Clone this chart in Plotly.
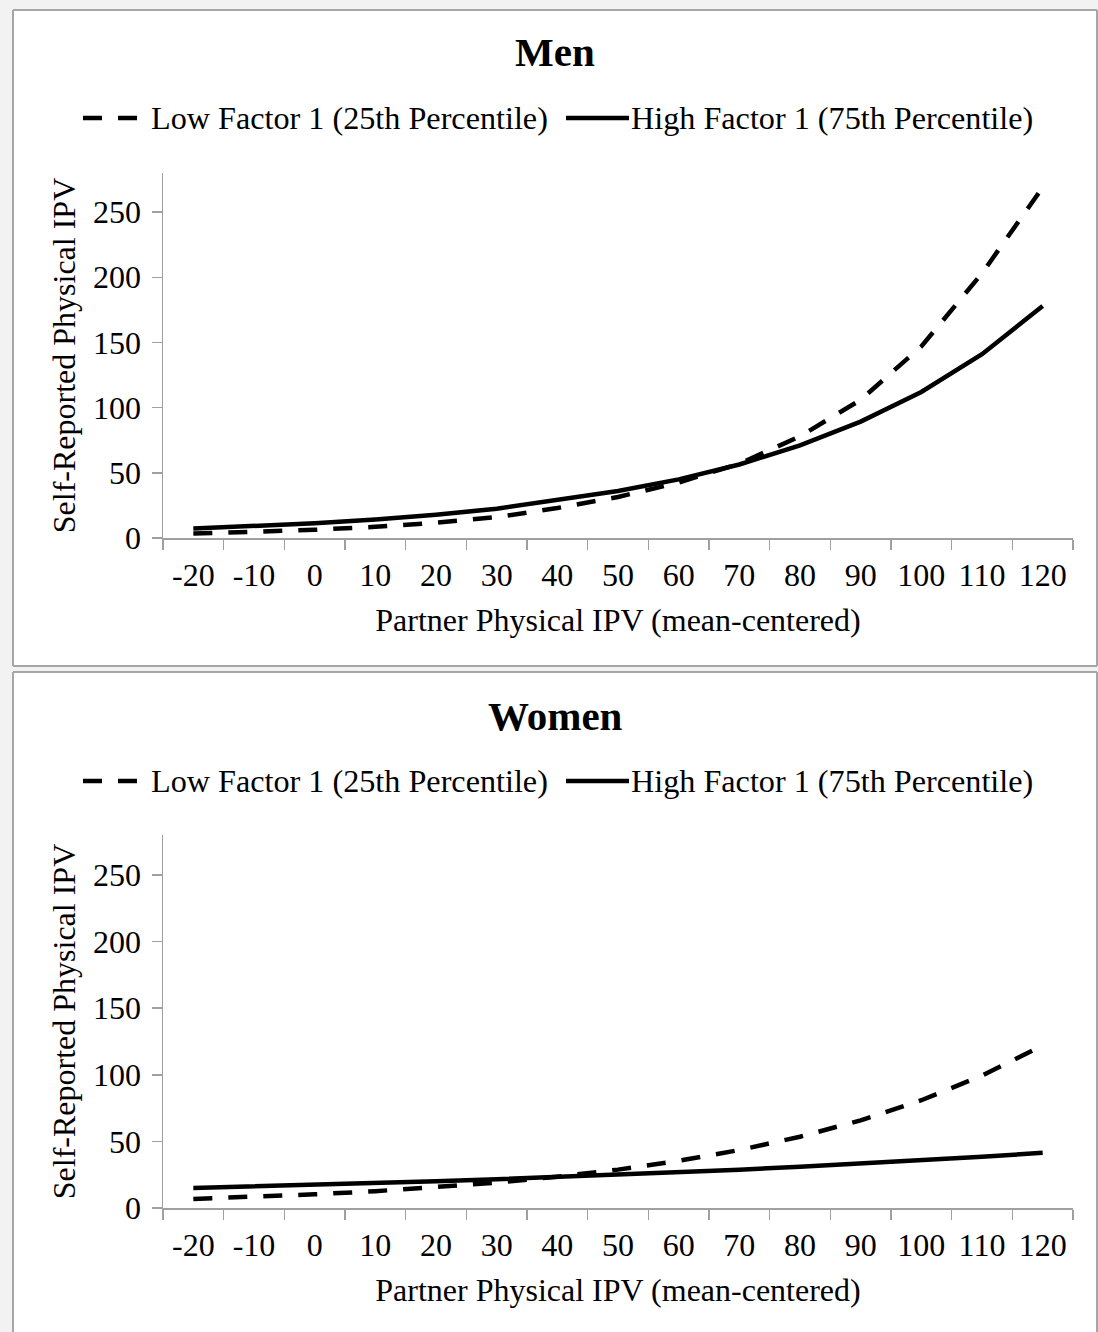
import plotly.graph_objects as go

# ---------------- data ----------------
x_labels = ["-20", "-10", "0", "10", "20", "30", "40", "50", "60", "70", "80", "90", "100", "110", "120"]
y_ticks = [0, 50, 100, 150, 200, 250]

men_low = [3.4, 4.6, 6.3, 8.6, 11.7, 16.0, 23.0, 31.5, 42.5, 57.0, 78.0, 106.0, 147.0, 203.0, 269.0]
men_high = [7.2, 9.0, 11.3, 14.2, 17.9, 22.5, 29.0, 36.0, 45.0, 56.4, 71.0, 89.3, 112.0, 141.0, 178.0]
women_low = [6.8, 8.4, 10.3, 12.6, 15.5, 19.1, 23.5, 28.8, 35.4, 43.5, 53.5, 65.8, 80.9, 99.4, 122.0]
women_high = [15.0, 16.1, 17.3, 18.7, 20.1, 21.6, 23.2, 24.9, 26.8, 28.8, 31.0, 33.3, 35.8, 38.5, 41.4]

low_name = "Low Factor 1 (25th Percentile)"
high_name = "High Factor 1 (75th Percentile)"
x_title = "Partner Physical IPV (mean-centered)"
y_title = "Self-Reported Physical IPV"
panel_titles = ["Men", "Women"]

# ---------------- layout helpers ----------------
W, H = 1098, 1332          # reference frame used for placing things
FIG_H = 1350               # rendered page height
def px(x):
    return x / W
def py(y):
    return 1 - y / H

FONT = "Liberation Serif, Times New Roman, serif"
AX = "#a0a0a0"
BORDER = "#a6a6a6"
DASH = "19px,16px"
LW = 4.5

fig = go.Figure()

panels = [
    dict(low=men_low, high=men_high, xa="x", ya="y",
         box=(13, 10, 1097, 666), closed=True, title_y=52, leg_y=118),
    dict(low=women_low, high=women_high, xa="x2", ya="y2",
         box=(13, 672, 1097, 1332), closed=False, title_y=716, leg_y=781),
]

shapes = []
annotations = []
def border(x0, y0, x1, y1):
    shapes.append(dict(type="line", xref="paper", yref="paper", layer="below",
                       x0=px(x0), x1=px(x1), y0=py(y0), y1=py(y1),
                       line=dict(color=BORDER, width=2)))

for i, p in enumerate(panels):
    fig.add_trace(go.Scatter(x=x_labels, y=p["low"], mode="lines", name=low_name,
                             line=dict(color="black", width=LW, dash=DASH),
                             xaxis=p["xa"], yaxis=p["ya"], showlegend=False))
    fig.add_trace(go.Scatter(x=x_labels, y=p["high"], mode="lines", name=high_name,
                             line=dict(color="black", width=LW),
                             xaxis=p["xa"], yaxis=p["ya"], showlegend=False))
    x0, y0, x1, y1 = p["box"]
    shapes.append(dict(type="rect", xref="paper", yref="paper", layer="below",
                       x0=px(x0), x1=px(x1), y0=py(y1), y1=py(y0),
                       fillcolor="white", line=dict(width=0)))
    border(x0, y0, x1, y0)
    border(x0, y0, x0, y1)
    border(x1, y0, x1, y1)
    if p["closed"]:
        border(x0, y1, x1, y1)
    ly = py(p["leg_y"])
    shapes.append(dict(type="line", xref="paper", yref="paper", x0=px(83), x1=px(137),
                       y0=ly, y1=ly, line=dict(color="black", width=LW, dash=DASH)))
    shapes.append(dict(type="line", xref="paper", yref="paper", x0=px(566), x1=px(629),
                       y0=ly, y1=ly, line=dict(color="black", width=LW)))
    annotations.append(dict(text=low_name, xref="paper", yref="paper", x=px(149), y=ly,
                            xanchor="left", yanchor="middle", showarrow=False,
                            font=dict(family=FONT, size=32.2, color="black")))
    annotations.append(dict(text=high_name, xref="paper", yref="paper", x=px(629), y=ly,
                            xanchor="left", yanchor="middle", showarrow=False,
                            font=dict(family=FONT, size=32.2, color="black")))
    annotations.append(dict(text="<b>%s</b>" % panel_titles[i], xref="paper", yref="paper",
                            x=px(555), y=py(p["title_y"]), xanchor="center", yanchor="middle",
                            showarrow=False, font=dict(family=FONT, size=41, color="black")))

axis_common_x = dict(type="category", tickson="boundaries", ticks="outside", ticklen=10,
                     tickcolor=AX, tickwidth=1.5, showline=True, linecolor=AX, linewidth=1.5,
                     showgrid=False, zeroline=False, range=[-0.5, 14.5], fixedrange=True,
                     ticklabelstandoff=8,
                     tickfont=dict(family=FONT, size=32, color="black"),
                     title=dict(text=x_title, font=dict(family=FONT, size=32, color="black"), standoff=16),
                     domain=[px(163), px(1073)])
axis_common_y = dict(range=[0, 280], tickvals=y_ticks, ticks="outside", ticklen=10,
                     tickcolor=AX, tickwidth=1.5, showline=True, linecolor=AX, linewidth=1.5,
                     showgrid=False, zeroline=False, fixedrange=True,
                     ticklabelstandoff=4,
                     tickfont=dict(family=FONT, size=32, color="black"),
                     title=dict(text=y_title, font=dict(family=FONT, size=32, color="black"), standoff=8))

fig.update_layout(
    width=W, height=FIG_H, autosize=False,
    margin=dict(l=0, r=0, t=0, b=0),
    paper_bgcolor="#f2f2f2", plot_bgcolor="rgba(0,0,0,0)",
    showlegend=False,
    shapes=shapes, annotations=annotations,
    xaxis=dict(axis_common_x, anchor="y"),
    yaxis=dict(axis_common_y, anchor="x", domain=[py(538), py(173)]),
    xaxis2=dict(axis_common_x, anchor="y2"),
    yaxis2=dict(axis_common_y, anchor="x2", domain=[py(1208), py(835)]),
)

post = (
    "document.documentElement.style.margin='0'; document.documentElement.style.padding='0';"
    "document.body.style.margin='0'; document.body.style.padding='0';"
    "document.body.style.overflow='hidden'; document.documentElement.style.overflow='hidden';"
)

fig.write_html("out.html", config={"displayModeBar": False, "staticPlot": True}, post_script=post)
